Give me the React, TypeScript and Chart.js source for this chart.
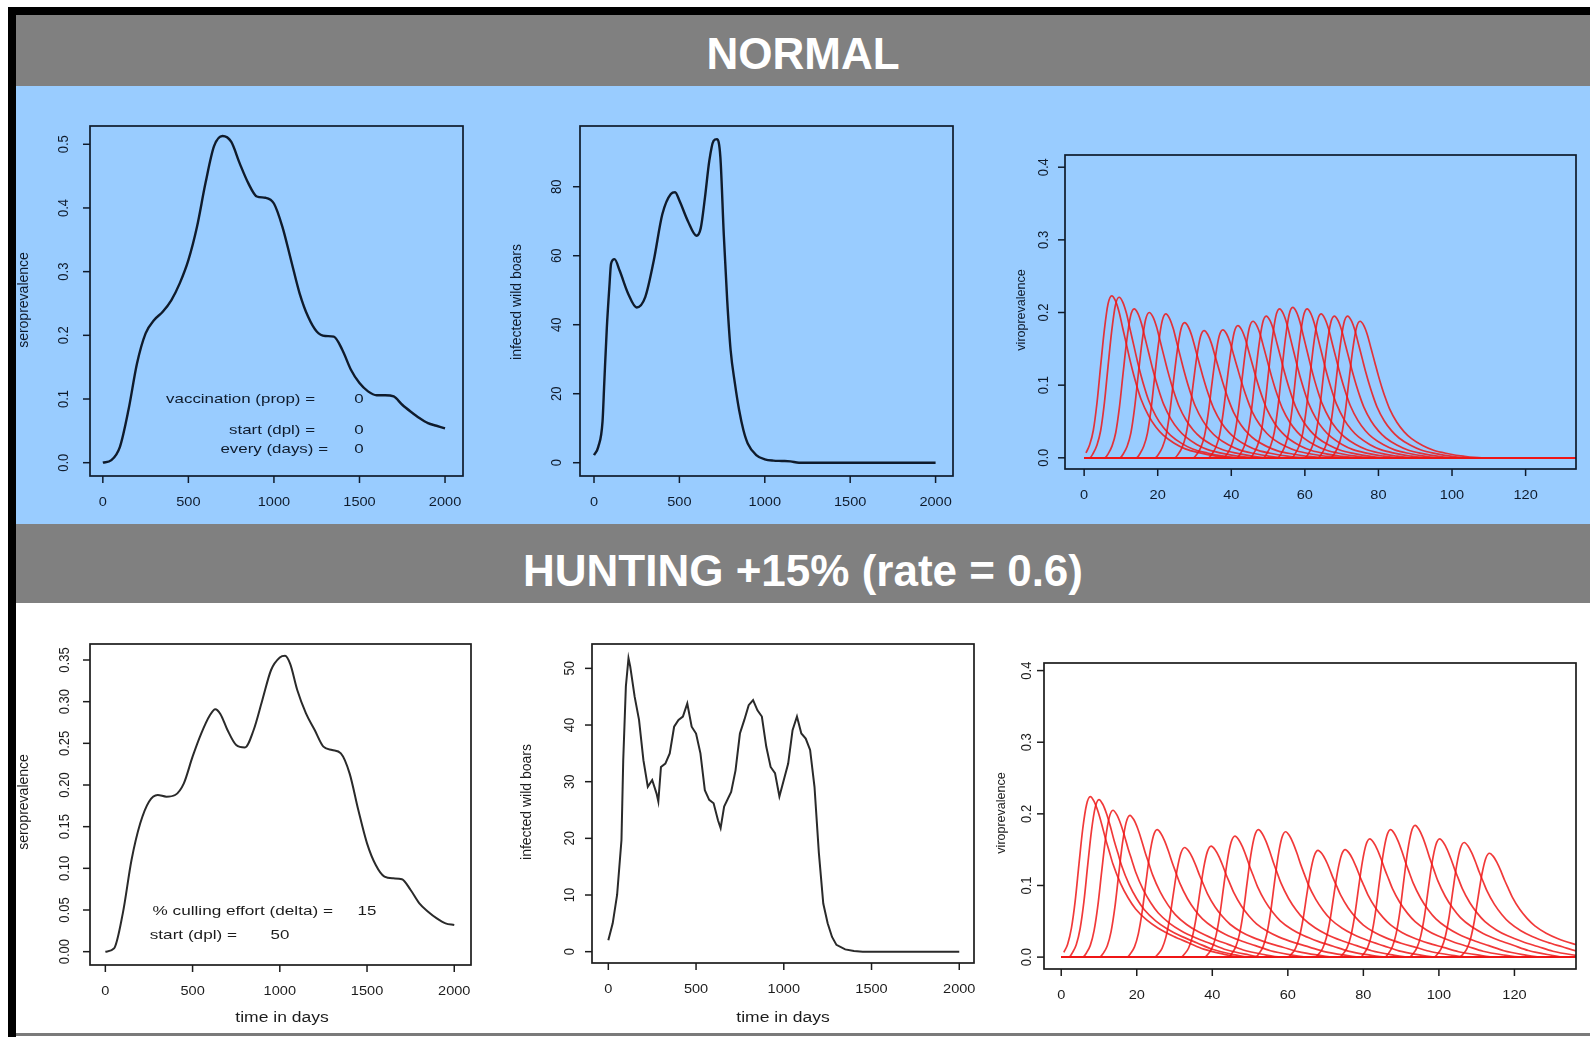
import React, { useEffect, useRef } from "react";
import { Chart, registerables } from "chart.js";
Chart.register(...registerables);

const FONT = '"Liberation Sans", Arial, Helvetica, sans-serif';

// ---------- DATA ----------
const dayTicks = [0, 500, 1000, 1500, 2000];
const dayTickLabels = ["0", "500", "1000", "1500", "2000"];
const virusDayTicks = [0, 20, 40, 60, 80, 100, 120];
const virusDayTickLabels = ["0", "20", "40", "60", "80", "100", "120"];

// NORMAL – seroprevalence
const seroNormalDays = [0, 50, 100, 150, 200, 250, 300, 350, 400, 450, 500, 550, 600, 650, 700, 750, 800, 850, 900, 950, 1000, 1050, 1100, 1150, 1200, 1250, 1300, 1350, 1400, 1450, 1500, 1550, 1600, 1650, 1700, 1750, 1800, 1850, 1900, 1950, 2000];
const seroNormal = [0.0, 0.004, 0.025, 0.083, 0.156, 0.203, 0.224, 0.237, 0.255, 0.282, 0.318, 0.37, 0.439, 0.497, 0.513, 0.504, 0.47, 0.439, 0.418, 0.416, 0.407, 0.37, 0.318, 0.266, 0.229, 0.206, 0.199, 0.198, 0.177, 0.146, 0.125, 0.112, 0.106, 0.106, 0.104, 0.091, 0.08, 0.07, 0.062, 0.058, 0.054];
const seroNormalTicks = [0, 0.1, 0.2, 0.3, 0.4, 0.5];
const seroNormalTickLabels = ["0.0", "0.1", "0.2", "0.3", "0.4", "0.5"];

// NORMAL – infected wild boars
const boarsNormalDays = [0, 25, 50, 60, 75, 90, 100, 120, 150, 200, 250, 300, 350, 400, 450, 475, 500, 550, 600, 625, 650, 675, 700, 720, 740, 760, 780, 800, 825, 850, 875, 900, 950, 1000, 1050, 1100, 1150, 1200, 2000];
const boarsNormal = [2.2, 4.6, 12, 23, 39, 51, 57.7, 59, 55.7, 49, 45, 48, 58.6, 72, 77.9, 78.4, 76, 70, 65.8, 68, 77, 87.5, 93.3, 93.8, 88.5, 66, 47, 32.6, 23, 15.2, 9.4, 5.6, 2.2, 1.0, 0.6, 0.5, 0.4, 0, 0];
const boarsNormalTicks = [0, 20, 40, 60, 80];
const boarsNormalTickLabels = ["0", "20", "40", "60", "80"];

// NORMAL – viroprevalence curves (peak day / peak height of each curve)
const virusNormalPeakDays = [7.5, 9.5, 13.6, 17.7, 22.2, 27.3, 32.6, 37.7, 41.8, 45.9, 49.5, 53.1, 56.7, 60.6, 64.4, 68, 71.6, 75];
const virusNormalPeaks = [0.223, 0.221, 0.205, 0.2, 0.198, 0.186, 0.175, 0.176, 0.182, 0.188, 0.195, 0.205, 0.207, 0.205, 0.198, 0.195, 0.195, 0.188];
const virusNormalShapeOffsets = [-8, -7, -6, -5, -4, -3, -2, -1, 0, 1, 2, 3, 4, 5, 6, 7, 8, 10, 12, 14, 17, 20, 24, 28, 33];
const virusNormalShape = [0, 0.03, 0.08, 0.17, 0.34, 0.57, 0.79, 0.95, 1, 0.97, 0.9, 0.8, 0.7, 0.6, 0.51, 0.43, 0.36, 0.26, 0.19, 0.14, 0.09, 0.055, 0.03, 0.012, 0];

// HUNTING – seroprevalence
const seroHuntDays = [0, 50, 100, 150, 200, 250, 300, 350, 400, 450, 500, 550, 600, 630, 660, 700, 750, 800, 850, 900, 950, 1000, 1030, 1060, 1100, 1150, 1200, 1250, 1300, 1350, 1400, 1450, 1500, 1550, 1600, 1650, 1700, 1750, 1800, 1850, 1900, 1950, 2000];
const seroHunt = [0, 0.004, 0.046, 0.11, 0.154, 0.18, 0.188, 0.186, 0.188, 0.202, 0.234, 0.262, 0.284, 0.291, 0.285, 0.266, 0.248, 0.245, 0.266, 0.302, 0.338, 0.353, 0.355, 0.345, 0.314, 0.286, 0.266, 0.246, 0.242, 0.238, 0.214, 0.17, 0.13, 0.104, 0.09, 0.088, 0.087, 0.074, 0.058, 0.048, 0.04, 0.034, 0.032];
const seroHuntTicks = [0, 0.05, 0.1, 0.15, 0.2, 0.25, 0.3, 0.35];
const seroHuntTickLabels = ["0.00", "0.05", "0.10", "0.15", "0.20", "0.25", "0.30", "0.35"];

// HUNTING – infected wild boars
const boarsHuntDays = [0, 25, 50, 75, 85, 100, 115, 125, 150, 175, 200, 225, 250, 275, 285, 300, 325, 350, 375, 400, 425, 450, 475, 500, 525, 550, 575, 600, 625, 640, 660, 700, 725, 750, 775, 800, 825, 850, 875, 900, 925, 950, 975, 1000, 1025, 1050, 1075, 1100, 1125, 1150, 1175, 1200, 1225, 1250, 1275, 1300, 1350, 1400, 1450, 2000];
const boarsHunt = [2, 5, 10, 19.7, 33.8, 46.8, 51.8, 50.3, 45, 40.9, 33.8, 29.1, 30.3, 27.9, 26.5, 32.6, 33.2, 35, 39.7, 40.9, 41.5, 43.8, 39.7, 38.5, 35, 28.5, 26.8, 26.2, 23.2, 21.8, 25.6, 28.2, 32, 38.5, 40.9, 43.5, 44.4, 42.6, 41.5, 36.2, 32.6, 31.5, 27.4, 30.3, 33.2, 39.1, 41.5, 38.5, 37.6, 35.6, 29.1, 17.4, 8.5, 5, 2.6, 1.2, 0.4, 0.1, 0, 0];
const boarsHuntTicks = [0, 10, 20, 30, 40, 50];
const boarsHuntTickLabels = ["0", "10", "20", "30", "40", "50"];

// HUNTING – viroprevalence curves
const virusHuntPeakDays = [7.7, 10, 13.7, 18.2, 25.4, 32.7, 39.7, 46, 52.2, 59.4, 68, 75.2, 81.7, 87.2, 93.7, 100.2, 106.7, 113.4];
const virusHuntPeaks = [0.224, 0.22, 0.205, 0.198, 0.178, 0.153, 0.155, 0.169, 0.178, 0.175, 0.149, 0.15, 0.165, 0.178, 0.184, 0.165, 0.16, 0.145];
const virusHuntShapeOffsets = [-8, -7, -6, -5, -4, -3, -2, -1, 0, 1, 2, 3, 4, 5, 6, 8, 10, 12, 15, 18, 22, 26, 30, 35, 40];
const virusHuntShape = [0, 0.03, 0.08, 0.18, 0.35, 0.58, 0.8, 0.95, 1, 0.97, 0.91, 0.83, 0.74, 0.66, 0.58, 0.46, 0.37, 0.3, 0.23, 0.18, 0.13, 0.09, 0.05, 0.02, 0];

const virusTicks = [0, 0.1, 0.2, 0.3, 0.4];
const virusTickLabels = ["0.0", "0.1", "0.2", "0.3", "0.4"];
const virusLastDay = 140;

// ---------- helpers ----------
function lineSet(days: number[], vals: number[], color: string, width: number, smooth: boolean) {
  return {
    data: days.map((d, i) => ({ x: d, y: vals[i] })),
    showLine: true,
    pointRadius: 0,
    borderColor: color,
    borderWidth: width,
    tension: smooth ? 0.4 : 0,
    cubicInterpolationMode: smooth ? "monotone" : "default",
  };
}

function virusSets(peakDays: number[], peaks: number[], offs: number[], shape: number[]) {
  return peakDays.map((d, i) => {
    const pts: { x: number; y: number }[] = [];
    if (d + offs[0] > 0) pts.push({ x: 0, y: 0 });
    offs.forEach((o, j) => {
      const x = d + o;
      if (x >= 0) pts.push({ x, y: shape[j] * peaks[i] });
    });
    pts.push({ x: virusLastDay, y: 0 });
    return {
      data: pts,
      showLine: true,
      pointRadius: 0,
      borderColor: "rgba(238,22,22,0.85)",
      borderWidth: 1.7,
      tension: 0.4,
      cubicInterpolationMode: "monotone",
    };
  });
}

type TextItem = { text: string; x: number; y: number; align?: CanvasTextAlign; rot?: boolean; size?: number; sx?: number };

function drawText(ctx: CanvasRenderingContext2D, t: TextItem, ink: string) {
  ctx.save();
  ctx.translate(t.x, t.y);
  const size = t.size ?? 14;
  const sx = t.sx ?? 1.2;
  if (t.rot) {
    ctx.rotate(-Math.PI / 2);
    ctx.scale(1, sx);
  } else {
    ctx.scale(sx, 1);
  }
  ctx.font = `${size}px ${FONT}`;
  ctx.fillStyle = ink;
  ctx.textAlign = t.align ?? "center";
  ctx.textBaseline = "middle";
  ctx.fillText(t.text, 0, 0);
  ctx.restore();
}

type PanelProps = {
  region: [number, number, number, number];
  box: [number, number, number, number];
  xRange: [number, number];
  yRange: [number, number];
  xTicks: number[];
  xTickLabels: string[];
  yTicks: number[];
  yTickLabels: string[];
  yLabelGap: number;
  datasets: any[];
  ink: string;
  texts: TextItem[];
};

function Panel(p: PanelProps) {
  const ref = useRef<HTMLCanvasElement>(null);
  const [rx, ry, rw, rh] = p.region;
  useEffect(() => {
    const [L, T, R, B] = p.box;
    const plugin = {
      id: "rstyle",
      afterDraw(chart: any) {
        const ctx: CanvasRenderingContext2D = chart.ctx;
        const a = chart.chartArea;
        const xs = chart.scales.x;
        const ys = chart.scales.y;
        ctx.save();
        ctx.strokeStyle = p.ink;
        ctx.lineWidth = 1.7;
        ctx.strokeRect(a.left, a.top, a.right - a.left, a.bottom - a.top);
        ctx.lineWidth = 1.5;
        p.xTicks.forEach((v, i) => {
          const px = xs.getPixelForValue(v);
          ctx.beginPath();
          ctx.moveTo(px, a.bottom);
          ctx.lineTo(px, a.bottom + 7);
          ctx.stroke();
          drawText(ctx, { text: p.xTickLabels[i], x: px, y: a.bottom + 26, size: 13, sx: 1.12 }, p.ink);
        });
        p.yTicks.forEach((v, i) => {
          const py = ys.getPixelForValue(v);
          ctx.beginPath();
          ctx.moveTo(a.left, py);
          ctx.lineTo(a.left - 7, py);
          ctx.stroke();
          drawText(ctx, { text: p.yTickLabels[i], x: a.left - p.yLabelGap, y: py, rot: true, size: 13, sx: 1.15 }, p.ink);
        });
        p.texts.forEach((t) => drawText(ctx, { ...t, x: t.x - rx, y: t.y - ry }, p.ink));
        ctx.restore();
      },
    };
    const chart = new Chart(ref.current as HTMLCanvasElement, {
      type: "scatter",
      data: { datasets: p.datasets },
      options: {
        responsive: false,
        animation: false,
        events: [],
        layout: { padding: { left: L - rx, top: T - ry, right: rx + rw - R, bottom: ry + rh - B } },
        scales: {
          x: { type: "linear", display: false, min: p.xRange[0], max: p.xRange[1] },
          y: { type: "linear", display: false, min: p.yRange[0], max: p.yRange[1] },
        },
        plugins: { legend: { display: false }, tooltip: { enabled: false } },
      } as any,
      plugins: [plugin as any],
    });
    return () => chart.destroy();
  }, []);
  return (
    <canvas
      ref={ref}
      width={rw}
      height={rh}
      style={{ position: "absolute", left: rx, top: ry, width: rw, height: rh }}
    />
  );
}

const TOP_INK = "#0f1b2c";
const BOT_INK = "#1c1c1c";

export default function App() {
  const header: React.CSSProperties = {
    position: "absolute",
    left: 16,
    width: 1574,
    background: "#808080",
  };
  const headText: React.CSSProperties = {
    position: "absolute",
    left: 0,
    width: "100%",
    textAlign: "center",
    color: "#ffffff",
    fontFamily: FONT,
    fontWeight: "bold",
    fontSize: 44,
    lineHeight: "48px",
    whiteSpace: "nowrap",
  };
  return (
    <div style={{ position: "absolute", left: 0, top: 0, width: 1590, height: 1037, background: "#ffffff", overflow: "hidden" }}>
      <div style={{ ...header, top: 15, height: 71 }}>
        <div style={{ ...headText, top: 15 }}>NORMAL</div>
      </div>
      <div style={{ position: "absolute", left: 16, top: 86, width: 1574, height: 438, background: "#99ccff" }} />
      <div style={{ ...header, top: 524, height: 79 }}>
        <div style={{ ...headText, top: 23 }}>HUNTING +15% (rate = 0.6)</div>
      </div>
      <div style={{ position: "absolute", left: 8, top: 7, width: 1582, height: 8, background: "#000" }} />
      <div style={{ position: "absolute", left: 8, top: 7, width: 8, height: 1030, background: "#000" }} />
      <div style={{ position: "absolute", left: 16, top: 1033, width: 1574, height: 3, background: "#7a7a7a" }} />

      <Panel
        region={[16, 86, 484, 438]}
        box={[90, 126, 463, 476]}
        xRange={[-75, 2105]}
        yRange={[-0.0209, 0.5287]}
        xTicks={dayTicks}
        xTickLabels={dayTickLabels}
        yTicks={seroNormalTicks}
        yTickLabels={seroNormalTickLabels}
        yLabelGap={26}
        datasets={[lineSet(seroNormalDays, seroNormal, TOP_INK, 2.4, true)]}
        ink={TOP_INK}
        texts={[
          { text: "seroprevalence", x: 24, y: 300, rot: true, size: 14, sx: 1.05 },
          { text: "vaccination (prop) =", x: 315, y: 399, align: "right", size: 13, sx: 1.3 },
          { text: "0", x: 359, y: 399, size: 13, sx: 1.3 },
          { text: "start (dpl) =", x: 315, y: 430, align: "right", size: 13, sx: 1.3 },
          { text: "0", x: 359, y: 430, size: 13, sx: 1.3 },
          { text: "every (days) =", x: 328, y: 449, align: "right", size: 13, sx: 1.3 },
          { text: "0", x: 359, y: 449, size: 13, sx: 1.3 },
        ]}
      />
      <Panel
        region={[500, 86, 485, 438]}
        box={[580, 126, 953, 476]}
        xRange={[-82, 2102]}
        yRange={[-3.85, 97.6]}
        xTicks={dayTicks}
        xTickLabels={dayTickLabels}
        yTicks={boarsNormalTicks}
        yTickLabels={boarsNormalTickLabels}
        yLabelGap={23}
        datasets={[lineSet(boarsNormalDays, boarsNormal, TOP_INK, 2.4, true)]}
        ink={TOP_INK}
        texts={[{ text: "infected wild boars", x: 517, y: 302, rot: true, size: 14, sx: 1.05 }]}
      />
      <Panel
        region={[985, 86, 605, 438]}
        box={[1065, 155, 1576, 469]}
        xRange={[-5.2, 133.7]}
        yRange={[-0.0154, 0.4168]}
        xTicks={virusDayTicks}
        xTickLabels={virusDayTickLabels}
        yTicks={virusTicks}
        yTickLabels={virusTickLabels}
        yLabelGap={21}
        datasets={virusSets(virusNormalPeakDays, virusNormalPeaks, virusNormalShapeOffsets, virusNormalShape)}
        ink={TOP_INK}
        texts={[{ text: "viroprevalence", x: 1021, y: 310, rot: true, size: 12.5, sx: 1.05 }]}
      />
      <Panel
        region={[16, 603, 484, 430]}
        box={[90, 644, 471, 965]}
        xRange={[-88, 2096]}
        yRange={[-0.016, 0.3692]}
        xTicks={dayTicks}
        xTickLabels={dayTickLabels}
        yTicks={seroHuntTicks}
        yTickLabels={seroHuntTickLabels}
        yLabelGap={25}
        datasets={[lineSet(seroHuntDays, seroHunt, "#2a2a2a", 2, true)]}
        ink={BOT_INK}
        texts={[
          { text: "seroprevalence", x: 24, y: 802, rot: true, size: 14, sx: 1.05 },
          { text: "time in days", x: 282, y: 1018, size: 14, sx: 1.25 },
          { text: "% culling effort (delta) =", x: 333, y: 911, align: "right", size: 13, sx: 1.32 },
          { text: "15", x: 367, y: 911, size: 13, sx: 1.3 },
          { text: "start (dpl) =", x: 237, y: 935, align: "right", size: 13, sx: 1.32 },
          { text: "50", x: 280, y: 935, size: 13, sx: 1.3 },
        ]}
      />
      <Panel
        region={[500, 603, 485, 430]}
        box={[592, 644, 974, 963]}
        xRange={[-93, 2084]}
        yRange={[-2.0, 54.3]}
        xTicks={dayTicks}
        xTickLabels={dayTickLabels}
        yTicks={boarsHuntTicks}
        yTickLabels={boarsHuntTickLabels}
        yLabelGap={22}
        datasets={[lineSet(boarsHuntDays, boarsHunt, "#2a2a2a", 2, false)]}
        ink={BOT_INK}
        texts={[
          { text: "infected wild boars", x: 527, y: 802, rot: true, size: 14, sx: 1.05 },
          { text: "time in days", x: 783, y: 1018, size: 14, sx: 1.25 },
        ]}
      />
      <Panel
        region={[985, 603, 605, 430]}
        box={[1044, 663, 1576, 969]}
        xRange={[-4.56, 136.3]}
        yRange={[-0.0166, 0.4106]}
        xTicks={virusDayTicks}
        xTickLabels={virusDayTickLabels}
        yTicks={virusTicks}
        yTickLabels={virusTickLabels}
        yLabelGap={17}
        datasets={virusSets(virusHuntPeakDays, virusHuntPeaks, virusHuntShapeOffsets, virusHuntShape)}
        ink={BOT_INK}
        texts={[{ text: "viroprevalence", x: 1001, y: 813, rot: true, size: 12.5, sx: 1.05 }]}
      />
    </div>
  );
}
